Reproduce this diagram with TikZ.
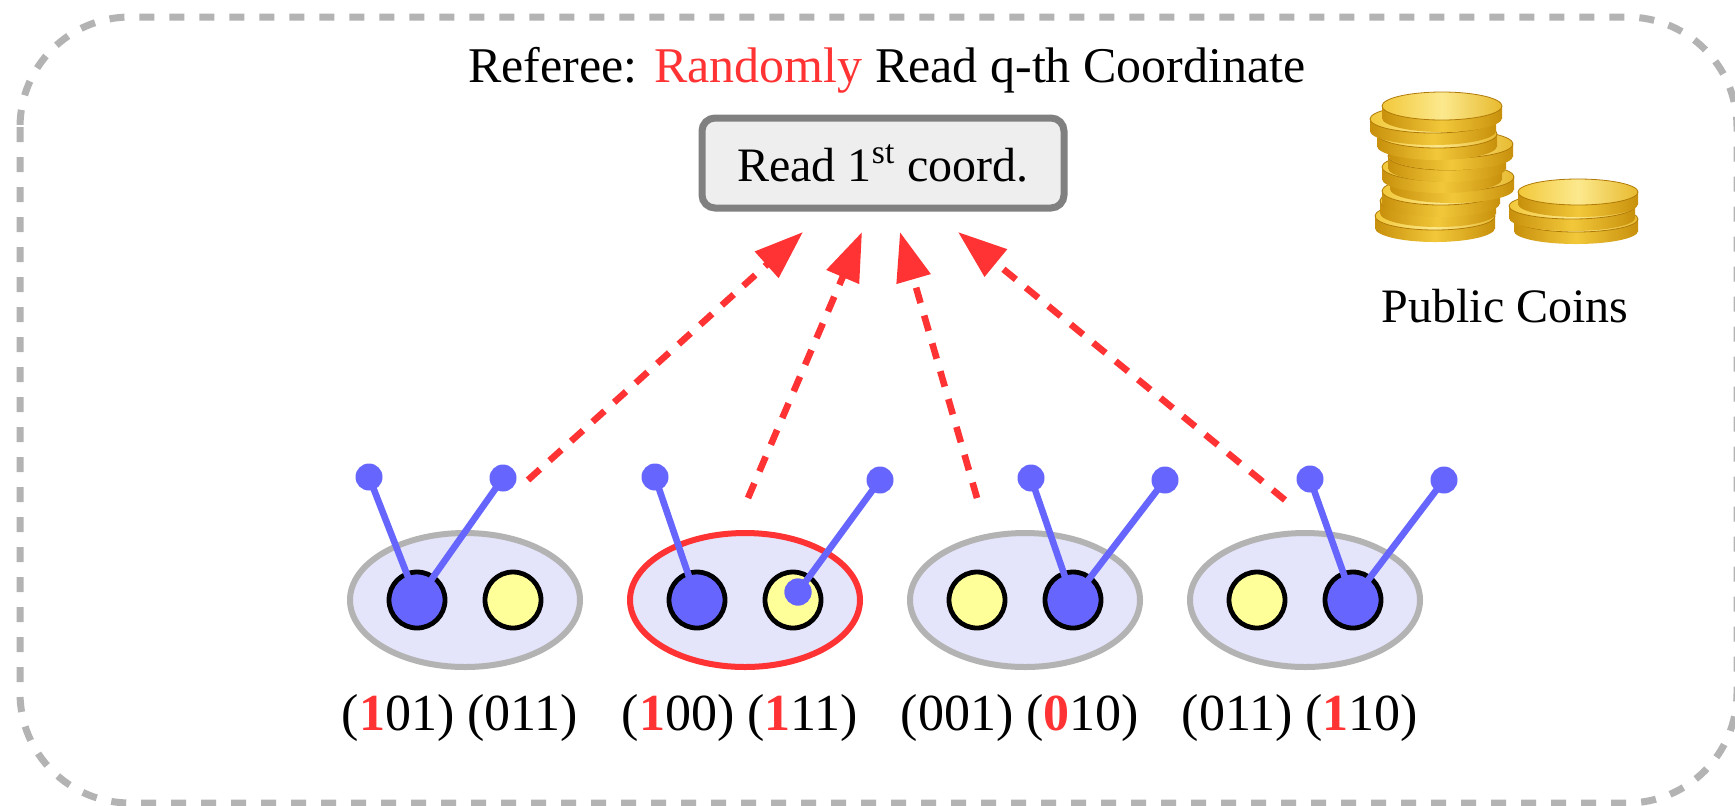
\documentclass[tikz,border=0pt]{standalone}
\usepackage{fontspec}
\setmainfont{Liberation Serif}
\usetikzlibrary{shapes.geometric,arrows.meta}

\definecolor{bitblue}{HTML}{6666FF}
\definecolor{bityellow}{HTML}{FFFF99}
\definecolor{grpfill}{HTML}{E4E4FA}
\definecolor{grpline}{HTML}{B3B3B3}
\definecolor{qred}{HTML}{FF3333}
\definecolor{boxfill}{HTML}{EEEEEE}
\definecolor{boxline}{HTML}{808080}
\definecolor{golddark}{HTML}{C8900C}
\definecolor{goldmid}{HTML}{F2C83A}
\definecolor{goldlight}{HTML}{FCE98E}
\definecolor{goldedge}{HTML}{B07A08}

\newcommand{\hitbit}[1]{\textcolor{qred}{\textbf{#1}}}

\begin{document}
\begin{tikzpicture}[x=0.5pt, y=-0.5pt,
  every node/.style={font=\fontsize{24}{28}\selectfont},
  grp/.style={ellipse, line width=3pt, fill=grpfill, minimum width=115pt, minimum height=67pt, inner sep=0pt},
  bit/.style={circle, draw=black, line width=2.4pt, minimum size=28pt, inner sep=0pt},
  knob/.style={circle, fill=bitblue, minimum size=13.5pt, inner sep=0pt},
  wire/.style={bitblue, line width=3.3pt},
  query/.style={qred, line width=3.3pt, dash pattern=on 8pt off 6.5pt, -{Triangle[length=24.5pt, width=17pt]}},
  rim/.style={left color=golddark, right color=golddark, middle color=goldmid},
  face/.style={left color=goldmid, right color=goldmid!75!golddark, middle color=goldlight}]

 \path[use as bounding box, fill=white] (0,0) rectangle (1735,805);

 % outer frame
 \draw[grpline, line width=3.5pt, dash pattern=on 7.5pt off 7.5pt, rounded corners=55pt] (20,17) rectangle (1737,803);

 \node[anchor=base, font=\fontsize{25}{30}\selectfont] (title) at (887,82) {Referee: \textcolor{qred}{Randomly} Read q-th Coordinate};
 \node[draw=boxline, fill=boxfill, line width=3.5pt, rounded corners=6.5pt, minimum width=181pt, minimum height=45pt] (rd) at (883,163) {Read 1\textsuperscript{st} coord.};

 % coins, bottom to top
 \foreach \cx/\cy/\rx/\ry in {1435/216/60/14, 1438/201/58/14, 1441/191/59/14, 1452/177/62/14, 1442/167/60/14,
                              1447/156/59/14, 1451/144/62/14, 1437/134/60/14, 1433/119/63/14, 1442/106/60/14,
                              1576/219/62/13, 1572/206/63/13, 1578/192/60/13} {
   \shade[rim] (\cx-\rx,\cy) rectangle (\cx+\rx,\cy+12);
   \shade[rim] (\cx,\cy+12) ellipse [x radius=\rx, y radius=\ry];
   \shade[face, draw=goldedge, line width=0.4pt] (\cx,\cy) ellipse [x radius=\rx, y radius=\ry];
 }
 \node[anchor=base] (pc) at (1505,322) {Public Coins};

 % groups
 \foreach \g/\x/\c/\lc/\rc in {1/465/grpline/bitblue/bityellow, 2/745/qred/bitblue/bityellow,
                               3/1025/grpline/bityellow/bitblue, 4/1305/grpline/bityellow/bitblue} {
   \node[grp, draw=\c] (g\g) at (\x,600) {};
   \node[bit, fill=\lc] (l\g) at (\x-48,600) {};
   \node[bit, fill=\rc] (r\g) at (\x+48,600) {};
 }

 % antennas
 \foreach \n/\x/\y in {k1a/369/477, k1b/503/478, k2a/655/477, k2b/880/480,
                       k3a/1031/478, k3b/1165/480, k4a/1310/479, k4b/1444/480}
   \node[knob] (\n) at (\x,\y) {};
 \node[knob] (d2) at (798,592) {};
 \foreach \a/\b in {k1a/l1, k1b/l1, k2a/l2, k2b/d2, k3a/r3, k3b/r3, k4a/r4, k4b/r4}
   \draw[wire] (\a.center) -- (\b.center);
 \node[knob] (d2) at (798,592) {};

 % queries
 \foreach \i/\sx/\sy/\tx in {1/528/480/803, 2/748/498/862, 3/977/498/900, 4/1285/500/958} {
   \coordinate (q\i) at (\sx,\sy);
   \coordinate (t\i) at (\tx,232);
   \draw[query] (q\i) -- (t\i);
 }

 % labels
 \foreach \g/\x/\txt in {1/460/{(\hitbit{1}01) (011)}, 2/740/{(\hitbit{1}00) (\hitbit{1}11)},
                         3/1020/{(001) (\hitbit{0}10)}, 4/1300/{(011) (\hitbit{1}10)}}
   \node[anchor=base, font=\fontsize{26}{30}\selectfont] (c\g) at (\x,730) {\txt};

\end{tikzpicture}
\end{document}
